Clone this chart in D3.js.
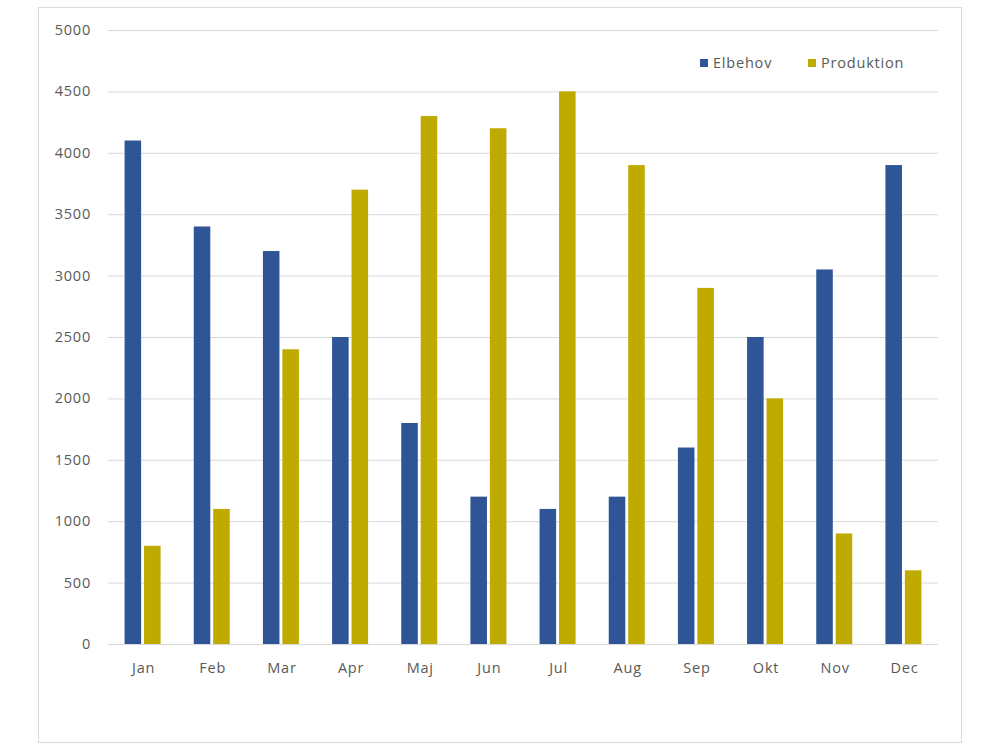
<!DOCTYPE html>
<html><head><meta charset="utf-8">
<script src="https://cdn.jsdelivr.net/npm/d3@7"></script>
<style>body{margin:0;background:#fff;font-family:"Open Sans",Calibri,sans-serif;}</style>
</head><body>
<svg id="c" width="1000" height="750"></svg>
<script>
const months = ["Jan","Feb","Mar","Apr","Maj","Jun","Jul","Aug","Sep","Okt","Nov","Dec"];
const elbehov = [4100,3400,3200,2500,1800,1200,1100,1200,1600,2500,3050,3900];
const produktion = [800,1100,2400,3700,4300,4200,4500,3900,2900,2000,900,600];
const seriesNames = ["Elbehov","Produktion"];
const colors = ["#2F5597","#BFAA00"];
const yTicks = [0,500,1000,1500,2000,2500,3000,3500,4000,4500,5000];

const svg = d3.select("#c");
svg.append("rect").attr("x",38.5).attr("y",7.5).attr("width",923).attr("height",735)
  .attr("fill","#fff").attr("stroke","#d9d9d9");

const L=108,R=938,T=30,B=644;
const x = d3.scaleBand().domain(months).range([L,R]);
const y = d3.scaleLinear().domain([0,5000]).range([B,T]);
const inner = d3.scaleBand().domain(seriesNames).range([x.bandwidth()/2-18, x.bandwidth()/2+18]).paddingInner(0.15);

svg.append("g").selectAll("line").data(yTicks).join("line")
  .attr("x1",L).attr("x2",R).attr("y1",d=>y(d)+0.5).attr("y2",d=>y(d)+0.5)
  .attr("stroke","#d9d9d9").attr("stroke-width",1);

const fs = 14.5, ls = 0.8;
svg.append("g").selectAll("text").data(yTicks).join("text")
  .attr("x",91).attr("y",d=>y(d)).attr("dy","0.35em").attr("text-anchor","end")
  .attr("font-size",fs).attr("letter-spacing",ls).attr("fill","#595959").text(d=>d);

const data = [elbehov, produktion];
data.forEach((vals,si)=>{
  svg.append("g").selectAll("rect").data(vals).join("rect")
    .attr("x",(d,i)=>x(months[i])+inner(seriesNames[si]))
    .attr("width",inner.bandwidth())
    .attr("y",d=>y(d)).attr("height",d=>B-y(d))
    .attr("fill",colors[si]);
});

svg.append("g").selectAll("text").data(months).join("text")
  .attr("x",d=>x(d)+x.bandwidth()/2+1).attr("y",668).attr("dy","0.35em")
  .attr("text-anchor","middle").attr("font-size",fs).attr("letter-spacing",ls).attr("fill","#595959").text(d=>d);

const leg = [{x:700},{x:808}];
seriesNames.forEach((n,i)=>{
  svg.append("rect").attr("x",leg[i].x).attr("y",59).attr("width",8).attr("height",8).attr("fill",colors[i]);
  svg.append("text").attr("x",leg[i].x+13).attr("y",63).attr("dy","0.35em")
    .attr("font-size",fs).attr("letter-spacing",ls).attr("fill","#595959").text(n);
});
</script>
</body></html>
